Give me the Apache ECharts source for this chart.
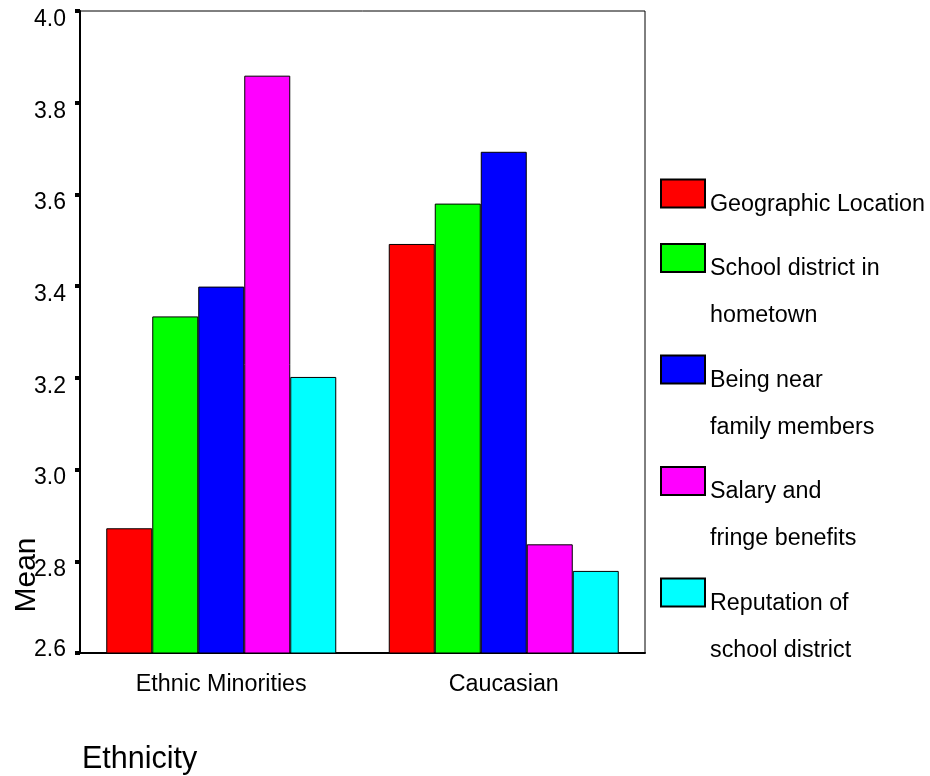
<!DOCTYPE html>
<html>
<head>
<meta charset="utf-8">
<script src="https://cdn.jsdelivr.net/npm/echarts@6/dist/echarts.min.js"></script>
<style>
html,body{margin:0;padding:0;background:#fff;}
#chart{width:930px;height:776px;}
</style>
</head>
<body>
<div id="chart"></div>
<script>
const categories = ['Ethnic Minorities', 'Caucasian'];
const seriesNames = [
  'Geographic Location',
  'School district in\nhometown',
  'Being near\nfamily members',
  'Salary and\nfringe benefits',
  'Reputation of\nschool district'
];
const seriesColors = ['#ff0000', '#00ff00', '#0000ff', '#ff00ff', '#00ffff'];
const geographicLocation = [2.872, 3.492];
const schoolDistrictHometown = [3.334, 3.580];
const nearFamily = [3.399, 3.693];
const salaryBenefits = [3.859, 2.837];
const reputationDistrict = [3.202, 2.779];
const yTicks = { min: 2.6, max: 4.0, interval: 0.2 };

const values = [geographicLocation, schoolDistrictHometown, nearFamily, salaryBenefits, reputationDistrict];
const FONT = '"Liberation Sans", Arial, sans-serif';
const LFS = 23.3;

const chart = echarts.init(document.getElementById('chart'));
chart.setOption({
  animation: false,
  backgroundColor: '#ffffff',
  grid: { left: 80, right: 285, top: 11, bottom: 123, outerBoundsMode: 'none', containLabel: false, show: true, borderColor: '#000', borderWidth: 1, backgroundColor: 'transparent' },
  legend: {
    orient: 'vertical',
    left: 660,
    top: 166,
    padding: 0,
    itemWidth: 44,
    itemHeight: 28,
    itemGap: -9,
    icon: 'rect',
    data: seriesNames,
    formatter: function (name) {
      const lines = name.split('\n');
      if (lines.length === 1) return '{s| }\n{t|' + lines[0] + '}';
      return '{e| }\n' + lines.map(l => '{t|' + l + '}').join('\n');
    },
    textStyle: {
      fontFamily: FONT, fontSize: LFS, color: '#000',
      rich: {
        s: { fontSize: 8, lineHeight: 22 },
        e: { fontSize: 8, lineHeight: 69 },
        t: { fontFamily: FONT, fontSize: LFS, color: '#000', lineHeight: 47 }
      }
    }
  },
  xAxis: {
    type: 'category',
    data: categories,
    axisLine: { lineStyle: { color: '#000', width: 2 } },
    axisTick: { alignWithLabel: true, length: 6, lineStyle: { color: '#000', width: 4 } },
    axisLabel: { color: '#000', fontFamily: FONT, fontSize: LFS, margin: 20 },
    splitLine: { show: false }
  },
  yAxis: {
    type: 'value',
    min: yTicks.min,
    max: yTicks.max,
    interval: yTicks.interval,
    axisLine: { show: true, lineStyle: { color: '#000', width: 2 } },
    axisTick: { show: true, length: 5, lineStyle: { color: '#000', width: 4 } },
    axisLabel: {
      color: '#000', fontFamily: FONT, fontSize: 23, margin: 14, lineHeight: 17,
      formatter: v => (Math.abs(v - yTicks.min) < 1e-9 ? '{m|' + v.toFixed(1) + '}\n{n| }' : ' \n' + v.toFixed(1)),
      rich: {
        m: { fontFamily: FONT, fontSize: 23, color: '#000', lineHeight: 17 },
        n: { fontSize: 6, lineHeight: 7 }
      }
    },
    splitLine: { show: false }
  },
  graphic: [
    { type: 'text', left: 82, top: 744, style: { text: 'Ethnicity', fontFamily: FONT, fontSize: 30.5, fill: '#000' } },
    { type: 'text', x: 27, y: 575, rotation: Math.PI / 2, style: { text: 'Mean', fontFamily: FONT, fontSize: 30, fill: '#000', align: 'center', verticalAlign: 'middle' } }
  ],
  series: seriesNames.map((n, i) => ({
    name: n,
    type: 'bar',
    data: values[i],
    barWidth: 46,
    barGap: '0%',
    itemStyle: { color: seriesColors[i], borderColor: '#000', borderWidth: 1 }
  }))
});
</script>
</body>
</html>
